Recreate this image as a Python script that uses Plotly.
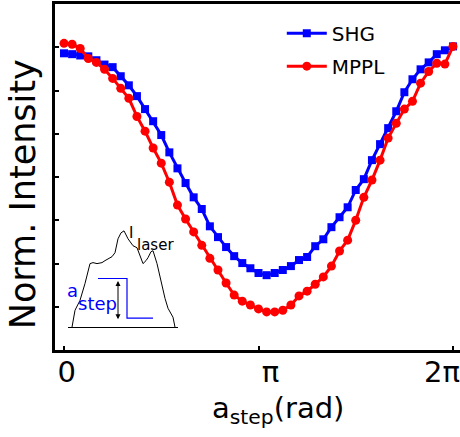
import numpy as np
import plotly.graph_objects as go

# phase step values (rad), 49 samples from 0 to 2*pi
a_step = np.linspace(0, 2 * np.pi, 49)

shg = [6.86, 6.84, 6.81, 6.79, 6.70, 6.60, 6.54, 6.33, 6.12, 5.87,
       5.57, 5.29, 4.97, 4.57, 4.20, 3.86, 3.53, 3.26, 2.86, 2.61,
       2.38, 2.17, 2.01, 1.89, 1.78, 1.73, 1.78, 1.85, 1.94, 2.08,
       2.15, 2.40, 2.56, 2.84, 3.07, 3.30, 3.70, 3.95, 4.39, 4.76,
       5.13, 5.52, 5.96, 6.26, 6.49, 6.65, 6.84, 6.93, 7.02]

mppl = [7.09, 7.07, 6.97, 6.74, 6.65, 6.49, 6.28, 6.05, 5.82, 5.40,
        5.06, 4.67, 4.32, 3.88, 3.35, 3.03, 2.73, 2.42, 2.12, 1.85,
        1.55, 1.27, 1.13, 1.04, 0.95, 0.88, 0.88, 0.92, 1.04, 1.25,
        1.36, 1.52, 1.69, 1.94, 2.29, 2.54, 3.00, 3.53, 3.93, 4.39,
        4.90, 5.24, 5.57, 5.75, 6.17, 6.44, 6.63, 6.61, 7.02]

x_tickvals = [0, np.pi, 2 * np.pi]
x_ticktext = ["\u00a0\u00a0\u00a00", "\u00a0\u00a0\u00a0\u00a0\u00a0π", "2π"]
y_tickvals = [1, 2, 3, 4, 5, 6, 7]

# inset: laser spectrum (arbitrary units)
spec_w = [4, 7, 12, 17, 22, 25, 29, 34, 37, 40, 44, 47, 50, 53, 56, 60, 65, 69,
          72, 75, 78, 80, 83, 85, 89, 92, 94, 97, 100, 103, 105, 107]
spec_i = [0, 17, 27, 44, 64, 65, 64, 65, 67, 69, 71, 75, 89, 95, 97, 89, 82, 80,
          71, 64, 67, 70, 76, 77, 64, 50, 40, 29, 19, 13, 10, 0]
step_w = [30, 59, 59, 85]
step_i = [49, 49, 9, 9]

BLUE = "#0000FF"
RED = "#FF0000"

fig = go.Figure()
fig.add_trace(go.Scatter(
    x=a_step, y=shg, mode="lines+markers", name="SHG", legendgroup="a",
    line=dict(color=BLUE, width=3),
    marker=dict(symbol="square", size=8, color=BLUE)))
fig.add_trace(go.Scatter(
    x=a_step, y=mppl, mode="lines+markers", name="MPPL", legendgroup="b",
    line=dict(color=RED, width=3),
    marker=dict(symbol="circle", size=9, color=RED)))

# inset traces
fig.add_trace(go.Scatter(x=spec_w, y=spec_i, mode="lines", xaxis="x2", yaxis="y2",
                         line=dict(color="black", width=1), showlegend=False))
fig.add_trace(go.Scatter(x=step_w, y=step_i, mode="lines", xaxis="x2", yaxis="y2",
                         line=dict(color=BLUE, width=1.2), showlegend=False))

font_family = "DejaVu Sans"

fig.update_layout(
    width=460, height=437,
    margin=dict(l=55, r=0, t=4, b=87, autoexpand=False),
    plot_bgcolor="white", paper_bgcolor="white",
    font=dict(family=font_family, color="black"),
    showlegend=True,
    legend=dict(x=0.56, y=0.972, xanchor="left", yanchor="top",
                font=dict(size=20, family=font_family), itemwidth=40,
                bgcolor="rgba(0,0,0,0)", tracegroupgap=4),
    xaxis=dict(range=[-0.1454, 6.3964], tickvals=x_tickvals, ticktext=x_ticktext,
               showline=True, linecolor="black", linewidth=3, mirror=True,
               ticks="inside", ticklen=4, tickwidth=1.5, tickcolor="black",
               tickfont=dict(size=29, family=font_family), automargin=False,
               ticklabeloverflow="allow", ticklabelstandoff=-6, ticklabelshift=-11,
               showgrid=False, zeroline=False),
    yaxis=dict(range=[0, 8], tickvals=y_tickvals, showticklabels=False,
               showline=True, linecolor="black", linewidth=3, automargin=False,
               ticks="inside", ticklen=4, tickwidth=1.5, tickcolor="black",
               showgrid=False, zeroline=False),
    xaxis2=dict(domain=[0.0321, 0.3037], range=[0, 110], anchor="y2",
                showline=True, linecolor="black", linewidth=1,
                showticklabels=False, ticks="", showgrid=False, zeroline=False),
    yaxis2=dict(domain=[0.066, 0.353], range=[0, 100], anchor="x2",
                showline=False, showticklabels=False, ticks="",
                showgrid=False, zeroline=False),
)

annotations = [
    dict(text="Norm. Intensity", xref="paper", yref="paper", x=-0.079, y=0.45,
         textangle=-90, showarrow=False, font=dict(size=35, family=font_family),
         xanchor="center", yanchor="middle"),
    dict(text="a<sub>step</sub>(rad)", xref="paper", yref="paper", x=0.551, y=-0.173,
         showarrow=False, font=dict(size=29, family=font_family),
         xanchor="center", yanchor="middle"),
    # inset labels
    dict(text="I", xref="x2", yref="y2", x=63, y=95, showarrow=False,
         font=dict(size=15, family=font_family)),
    dict(text="laser", xref="x2", yref="y2", x=87, y=83, showarrow=False,
         font=dict(size=15, family=font_family)),
    dict(text="a", xref="x2", yref="y2", x=4, y=37, showarrow=False,
         font=dict(size=18, family=font_family, color=BLUE)),
    dict(text="step", xref="x2", yref="y2", x=29, y=24, showarrow=False,
         font=dict(size=18, family=font_family, color=BLUE)),
    dict(text="ω", xref="x2", yref="y2", x=61, y=-7, showarrow=False,
         font=dict(size=13, family=font_family)),
    dict(text="", xref="x2", yref="y2", axref="x2", ayref="y2",
         x=50, y=8, ax=50, ay=48, showarrow=True, arrowhead=2, arrowside="end+start",
         arrowwidth=1, arrowsize=1, arrowcolor="black"),
]
fig.update_layout(annotations=annotations)

fig.write_html("out.html")
